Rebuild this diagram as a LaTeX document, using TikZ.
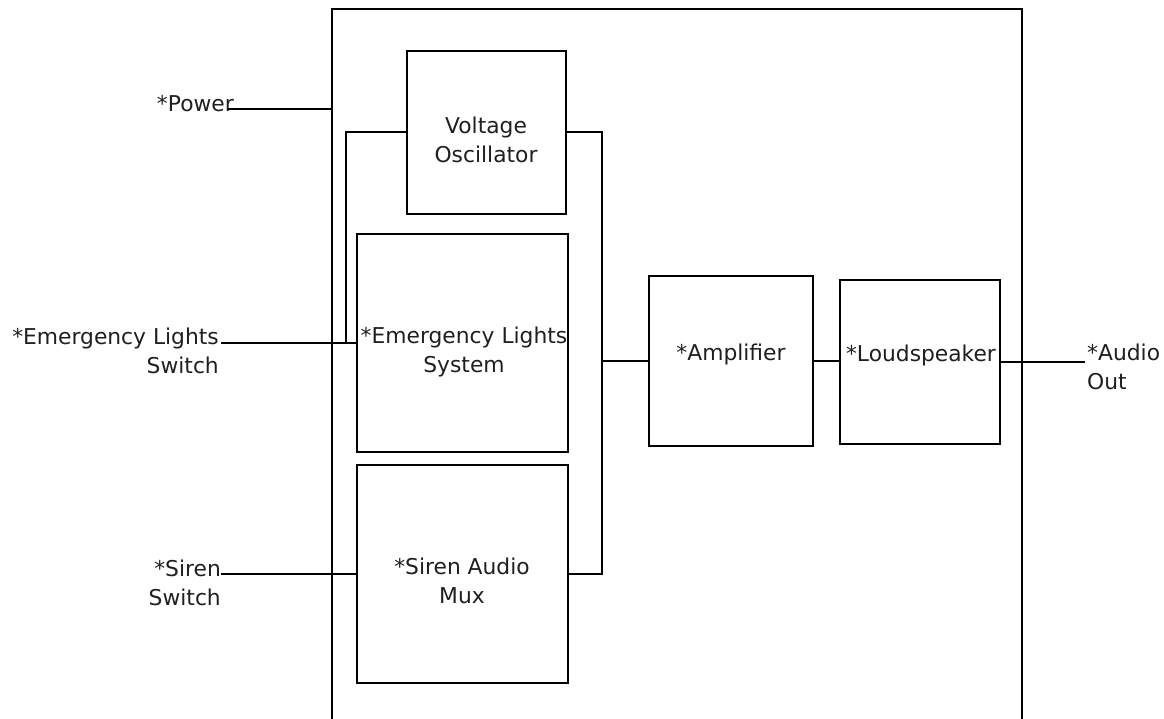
\documentclass[tikz,border=0pt]{standalone}
\usepackage{fontspec}
\setmainfont{DejaVu Sans}
\begin{document}
\begin{tikzpicture}[x=1pt,y=-1pt,
  box/.style={draw, line width=2.4pt, inner sep=0pt, rectangle},
  wire/.style={line width=2pt},
  lbl/.style={font=\fontsize{21.8}{29.5}\selectfont, inner sep=0pt, text=black!88}]
\useasboundingbox (0,0) rectangle (1164,719);
% outer frame (open at the bottom)
\coordinate (fbl) at (332,719);
\coordinate (ftl) at (332,9);
\coordinate (ftr) at (1022,9);
\coordinate (fbr) at (1022,719);
\draw[wire, line width=2.4pt] (fbl) -- (ftl) -- (ftr) -- (fbr);
% blocks
\node[box, minimum width=159pt, minimum height=163pt] (vo) at (486.5,132.5) {};
\node[box, minimum width=211pt, minimum height=218pt] (els) at (462.5,343) {};
\node[box, minimum width=211pt, minimum height=218pt] (sam) at (462.5,574) {};
\node[box, minimum width=164pt, minimum height=170pt] (amp) at (731,361) {};
\node[box, minimum width=160pt, minimum height=164pt] (ls) at (920,362) {};
% block labels
\node[lbl, align=center] (volbl) at (486,140) {Voltage\\Oscillator};
\node[lbl, align=center] (elslbl) at (464,352) {*Emergency Lights\\System};
\node[lbl, align=center] (samlbl) at (462,581) {*Siren Audio\\Mux};
\node[lbl] (amplbl) at (731,354) {*Amplifier};
\node[lbl] (lslbl) at (921,355) {*Loudspeaker};
% outside labels
\node[lbl, anchor=east] (pw) at (234,104) {*Power};
\node[lbl, anchor=east, align=right] (elsw) at (219,351) {*Emergency Lights\\Switch};
\node[lbl, anchor=east, align=right] (sw) at (221,583) {*Siren\\Switch};
\node[lbl, anchor=west, align=left] (ao) at (1087,367) {*Audio\\Out};
% wire end points
\coordinate (pwa) at (228,109);
\coordinate (pwb) at (332,109);
\coordinate (elsa) at (221,343);
\coordinate (elj) at (346,343);
\coordinate (swa) at (221,574);
\coordinate (busb) at (602,574);
\coordinate (busm) at (602,361);
\coordinate (aoa) at (1085,362);
% wires
\draw[wire] (pwa) -- (pwb);
\draw[wire] (elsa) -- (els.west);
\draw[wire] (vo.west) -| (elj);
\draw[wire] (swa) -- (sam.west);
\draw[wire] (vo.east) -| (busb) -- (sam.east);
\draw[wire] (busm) -- (amp.west);
\draw[wire] (amp.east) -- (amp.east -| ls.west);
\draw[wire] (ls.east) -- (aoa);
\end{tikzpicture}
\end{document}
